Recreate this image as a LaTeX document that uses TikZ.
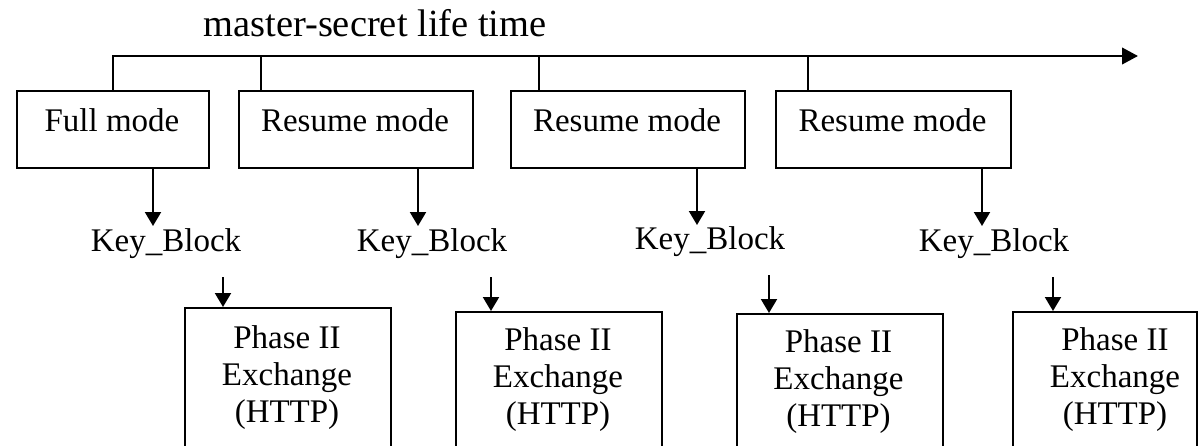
\documentclass[tikz,border=0pt]{standalone}
\usepackage{fontspec}
\setmainfont{Liberation Serif}
\usetikzlibrary{arrows.meta}
\begin{document}
\begin{tikzpicture}[x=0.02cm,y=-0.02cm,
  modebox/.style={draw,line width=1.1pt,minimum height=1.54cm,anchor=north west,inner sep=0pt},
  phbox/.style={draw,line width=1.1pt,minimum width=4.12cm,minimum height=3.6cm,anchor=north west,inner sep=0pt},
  txt/.style={font=\fontsize{18.78pt}{21.34pt}\selectfont,anchor=base,inner sep=0pt},
  ttl/.style={font=\fontsize{21.9pt}{26pt}\selectfont,anchor=base,inner sep=0pt},
  arr/.style={line width=1.2pt,-{Triangle[length=0.28cm,width=0.32cm]}},
  tick/.style={line width=0.9pt},
  timeline/.style={line width=1.4pt,-{Triangle[length=0.32cm,width=0.33cm]}}]
\useasboundingbox (0,0) rectangle (1198,446);
\clip (0,0) rectangle (1198,446);
% title
\node[ttl] (title) at (375,37) {master-secret life time};
% mode boxes
\node[modebox,minimum width=3.84cm] (m1) at (16,90) {};
\node[modebox,minimum width=4.68cm] (m2) at (238,90) {};
\node[modebox,minimum width=4.68cm] (m3) at (510,90) {};
\node[modebox,minimum width=4.70cm] (m4) at (775,90) {};
\node[txt] (m1t) at (112,132) {Full mode};
\node[txt] (m2t) at (355,132) {Resume mode};
\node[txt] (m3t) at (627,132) {Resume mode};
\node[txt] (m4t) at (892.5,132) {Resume mode};
% timeline
\coordinate (tend) at (1138,56);
\coordinate (t2) at (261,56);
\coordinate (t3) at (539,56);
\coordinate (t4) at (808,56);
\draw[timeline] (m1.north west -| 113,0) |- (tend);
\draw[tick] (t2) -- ([yshift=-0.04cm]m2.north -| t2);
\draw[tick] (t3) -- (m3.north -| t3);
\draw[tick] (t4) -- (m4.north -| t4);
% key block labels
\node[txt] (k1) at (166,252) {Key\_Block};
\node[txt] (k2) at (432,252) {Key\_Block};
\node[txt] (k3) at (710,250) {Key\_Block};
\node[txt] (k4) at (994,252) {Key\_Block};
\coordinate (a1) at (153,226);
\coordinate (a2) at (418,226);
\coordinate (a3) at (697,225);
\coordinate (a4) at (982,226);
\draw[arr] (m1.south -| a1) -- (a1);
\draw[arr] (m2.south -| a2) -- (a2);
\draw[arr] (m3.south -| a3) -- (a3);
\draw[arr] (m4.south -| a4) -- (a4);
% phase boxes
\node[phbox] (p1) at (184,307) {};
\node[phbox] (p2) at (455,311) {};
\node[phbox] (p3) at (736,313) {};
\node[phbox,minimum width=3.68cm] (p4) at (1012,311) {};
\node[txt] (p1t) at (287,348) {\begin{tabular}[t]{@{}c@{}}Phase II\\Exchange\\(HTTP)\end{tabular}};
\node[txt] (p2t) at (558,350) {\begin{tabular}[t]{@{}c@{}}Phase II\\Exchange\\(HTTP)\end{tabular}};
\node[txt] (p3t) at (838.5,352) {\begin{tabular}[t]{@{}c@{}}Phase II\\Exchange\\(HTTP)\end{tabular}};
\node[txt] (p4t) at (1115,350) {\begin{tabular}[t]{@{}c@{}}Phase II\\Exchange\\(HTTP)\end{tabular}};
\coordinate (b1) at (223,277);
\coordinate (b2) at (491,277);
\coordinate (b3) at (769,275);
\coordinate (b4) at (1053,277);
\draw[arr] (b1) -- (p1.north -| b1);
\draw[arr] (b2) -- (p2.north -| b2);
\draw[arr] (b3) -- (p3.north -| b3);
\draw[arr] (b4) -- (p4.north -| b4);
\end{tikzpicture}
\end{document}
